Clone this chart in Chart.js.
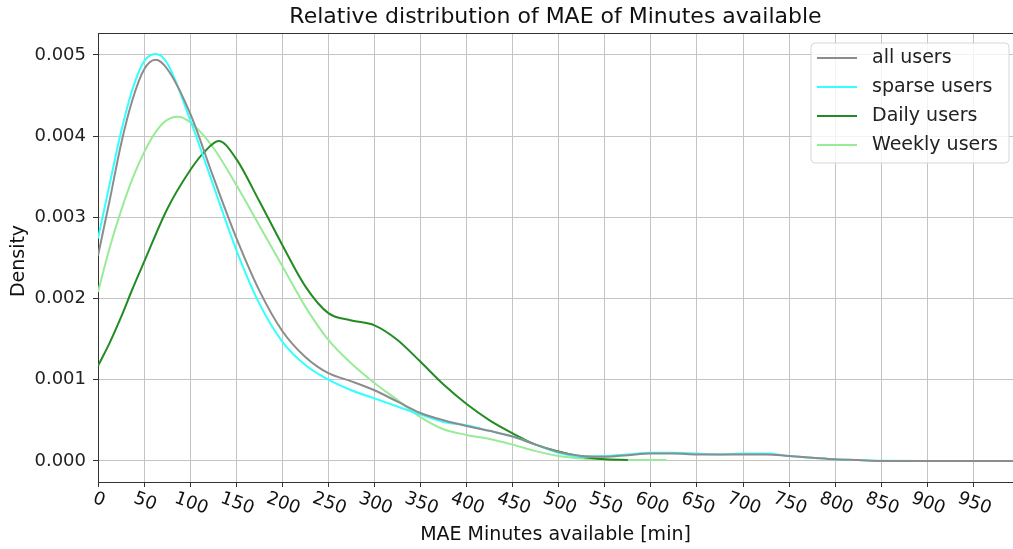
<!DOCTYPE html>
<html>
<head>
<meta charset="utf-8">
<script src="https://cdn.jsdelivr.net/npm/chart.js@4/dist/chart.umd.min.js"></script>
<style>
  html, body { margin: 0; padding: 0; background: #fff; }
  #wrap { width: 1013px; height: 549px; position: relative; }
</style>
</head>
<body>
<div id="wrap"><canvas id="c" width="1013" height="549"></canvas></div>
<script>
// ---- data ----
const titleText = 'Relative distribution of MAE of Minutes available';
const xAxisTitle = 'MAE Minutes available [min]';
const yAxisTitle = 'Density';
const xTickLabels = ['0','50','100','150','200','250','300','350','400','450','500','550','600','650','700','750','800','850','900','950'];
const seriesNames = ['all users', 'sparse users', 'Daily users', 'Weekly users'];
const seriesColors = ['#8c8c8c', '#33ffff', '#228b22', '#98ec98'];

const allX = [0, 12.5, 25, 37.5, 50, 62.5, 75, 100, 125, 150, 175, 200, 225, 250, 275, 300, 325, 350, 375, 400, 425, 450, 475, 500, 525, 550, 575, 600, 625, 650, 675, 700, 725, 750, 775, 800, 825, 850, 900, 950, 1000];
const allY = [0.00253, 0.0032, 0.0039, 0.00445, 0.00482, 0.00494, 0.00483, 0.00428, 0.0035, 0.00275, 0.0021, 0.0016, 0.00128, 0.00108, 0.00098, 0.00087, 0.00073, 0.00059, 0.0005, 0.00043, 0.00037, 0.0003, 0.0002, 0.00011, 0.00006, 0.00005, 0.00007, 0.00009, 0.00009, 0.00008, 0.00008, 0.00008, 0.00008, 0.00006, 0.00004, 0.00002, 0.00001, 0.0, 0.0, 0.0, 0.0];

const sparseX = [0, 12.5, 25, 37.5, 50, 62.5, 75, 100, 125, 150, 175, 200, 225, 250, 275, 300, 325, 350, 375, 400, 425, 450, 475, 500, 525, 550, 575, 600, 625, 650, 675, 700, 725, 750, 775, 800, 825, 850, 900, 950, 1000];
const sparseY = [0.00274, 0.0034, 0.00405, 0.00458, 0.00492, 0.00501, 0.0049, 0.0042, 0.0034, 0.0026, 0.00194, 0.00147, 0.00118, 0.001, 0.00087, 0.00077, 0.00067, 0.00057, 0.00048, 0.00044, 0.00037, 0.0003, 0.0002, 0.0001, 0.00005, 0.00006, 0.00008, 0.0001, 0.0001, 0.00009, 0.00008, 0.00009, 0.00009, 0.00006, 0.00004, 0.00002, 0.00001, 0.000002, 0.0, 0.0, 0.0];

const dailyX = [0, 12.5, 25, 37.5, 50, 75, 100, 115, 131, 150, 175, 200, 225, 250, 275, 300, 325, 350, 375, 400, 425, 450, 475, 500, 525, 550, 575];
const dailyY = [0.00117, 0.00145, 0.00177, 0.00212, 0.00245, 0.0031, 0.00358, 0.0038, 0.00394, 0.00372, 0.0032, 0.00266, 0.00215, 0.00182, 0.00173, 0.00167, 0.00149, 0.00122, 0.00094, 0.0007, 0.0005, 0.00034, 0.0002, 0.000115, 0.00005, 0.00002, 0.00001];

const weeklyX = [0, 12.5, 25, 37.5, 50, 62.5, 75, 87, 100, 125, 150, 175, 200, 225, 250, 275, 300, 325, 350, 375, 400, 425, 450, 475, 500, 525, 550, 575, 600, 617];
const weeklyY = [0.00208, 0.00262, 0.00308, 0.00348, 0.0038, 0.00405, 0.0042, 0.00424, 0.00417, 0.00386, 0.0034, 0.0029, 0.0024, 0.0019, 0.00149, 0.0012, 0.00096, 0.00075, 0.00054, 0.00039, 0.00032, 0.00027, 0.0002, 0.00012, 0.00006, 0.00003, 0.00002, 0.00001, 0.00001, 0.00001];

const yTickValues = [0, 0.001, 0.002, 0.003, 0.004, 0.005];

function pts(xs, ys) { return xs.map((x, i) => ({ x: x, y: ys[i] })); }

const FONT = "'DejaVu Sans', sans-serif";

const decor = {
  id: 'decor',
  afterDraw(chart) {
    const ctx = chart.ctx;
    const a = chart.chartArea;
    const xs = chart.scales.x;
    ctx.save();
    // top spine
    ctx.strokeStyle = '#333';
    ctx.lineWidth = 1;
    ctx.beginPath();
    ctx.moveTo(a.left, a.top + 0.5);
    ctx.lineTo(a.right, a.top + 0.5);
    ctx.stroke();

    // title
    ctx.fillStyle = '#111';
    ctx.font = '22px ' + FONT;
    ctx.textAlign = 'center';
    ctx.textBaseline = 'middle';
    ctx.fillText(titleText, (a.left + a.right) / 2, 17);

    // x axis title
    ctx.font = '19px ' + FONT;
    ctx.fillText(xAxisTitle, (a.left + a.right) / 2, 535);

    // y axis title
    ctx.save();
    ctx.translate(19, 261);
    ctx.rotate(-Math.PI / 2);
    ctx.fillText(yAxisTitle, 0, 0);
    ctx.restore();

    // rotated x tick labels
    ctx.font = '18px ' + FONT;
    const ang = 20 * Math.PI / 180;
    xTickLabels.forEach(lbl => {
      const v = parseFloat(lbl);
      const px = xs.getPixelForValue(v);
      const w = ctx.measureText(lbl).width;
      const h = w * Math.sin(ang) + 21 * Math.cos(ang);
      const cy = 488 + h / 2;
      ctx.save();
      ctx.translate(px + 1, cy);
      ctx.rotate(ang);
      ctx.textAlign = 'center';
      ctx.textBaseline = 'middle';
      ctx.fillText(lbl, 0, 0);
      ctx.restore();
    });

    // legend
    const lx = 811, ly = 43, lw = 198, lh = 120, r = 4;
    ctx.beginPath();
    ctx.moveTo(lx + r, ly);
    ctx.lineTo(lx + lw - r, ly);
    ctx.quadraticCurveTo(lx + lw, ly, lx + lw, ly + r);
    ctx.lineTo(lx + lw, ly + lh - r);
    ctx.quadraticCurveTo(lx + lw, ly + lh, lx + lw - r, ly + lh);
    ctx.lineTo(lx + r, ly + lh);
    ctx.quadraticCurveTo(lx, ly + lh, lx, ly + lh - r);
    ctx.lineTo(lx, ly + r);
    ctx.quadraticCurveTo(lx, ly, lx + r, ly);
    ctx.closePath();
    ctx.fillStyle = 'rgba(255,255,255,0.8)';
    ctx.fill();
    ctx.strokeStyle = '#d6d6d6';
    ctx.lineWidth = 1;
    ctx.stroke();
    ctx.textAlign = 'left';
    ctx.textBaseline = 'middle';
    ctx.font = '19px ' + FONT;
    seriesNames.forEach((name, i) => {
      const y = 58 + i * 29;
      ctx.strokeStyle = seriesColors[i];
      ctx.lineWidth = 2;
      ctx.beginPath();
      ctx.moveTo(817, y);
      ctx.lineTo(857, y);
      ctx.stroke();
      ctx.fillStyle = '#222';
      ctx.fillText(name, 872, y);
    });
    ctx.restore();
  }
};

const mk = (i, data) => ({
  label: seriesNames[i],
  data: data,
  borderColor: seriesColors[i],
  backgroundColor: seriesColors[i],
  borderWidth: 2,
  pointRadius: 0,
  fill: false,
  cubicInterpolationMode: 'monotone'
});

new Chart(document.getElementById('c'), {
  type: 'line',
  data: {
    datasets: [
      mk(0, pts(allX, allY)),
      mk(1, pts(sparseX, sparseY)),
      mk(2, pts(dailyX, dailyY)),
      mk(3, pts(weeklyX, weeklyY))
    ]
  },
  options: {
    responsive: false,
    animation: false,
    devicePixelRatio: 1,
    layout: { padding: { top: 33, right: 0, left: 0, bottom: 0 } },
    plugins: { legend: { display: false }, title: { display: false }, tooltip: { enabled: false } },
    scales: {
      x: {
        type: 'linear',
        min: 0,
        max: 993,
        afterFit(s) { s.height = 67; },
        ticks: { stepSize: 50, display: false, includeBounds: false },
        grid: { color: '#c4c4c4', lineWidth: 1, tickColor: '#333', tickLength: 5, drawTicks: true },
        border: { display: true, color: '#333', width: 1 }
      },
      y: {
        type: 'linear',
        min: -0.00026,
        max: 0.00527,
        afterFit(s) { s.width = 98; },
        afterBuildTicks(s) { s.ticks = yTickValues.map(v => ({ value: v })); },
        ticks: {
          font: { size: 18, family: FONT },
          color: '#222',
          padding: 7,
          callback: v => v.toFixed(3)
        },
        grid: { color: '#c4c4c4', lineWidth: 1, tickColor: '#333', tickLength: 5 },
        border: { display: true, color: '#333', width: 1 }
      }
    }
  },
  plugins: [decor]
});
</script>
</body>
</html>
